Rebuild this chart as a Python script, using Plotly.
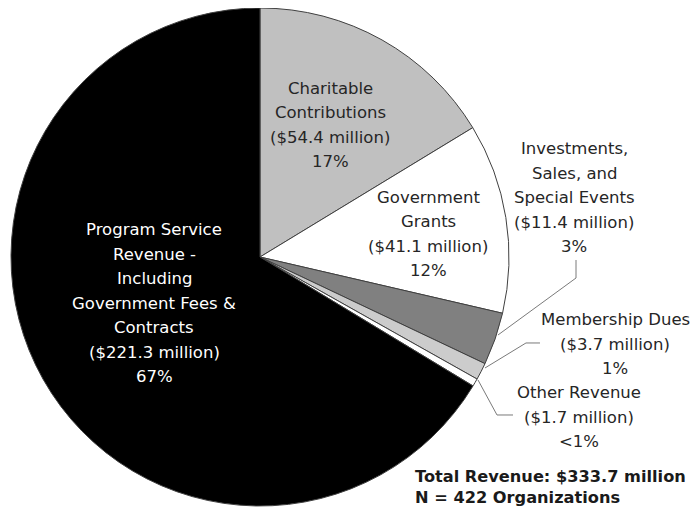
import plotly.graph_objects as go

# revenue sources, clockwise from 12 o'clock
sources = ["Charitable Contributions", "Government Grants",
           "Investments, Sales, and Special Events", "Membership Dues",
           "Other Revenue", "Program Service Revenue"]
revenue = [54.4, 41.1, 11.4, 3.7, 1.7, 221.3]   # $ million
shares = ["17%", "12%", "3%", "1%", "<1%", "67%"]
label_lines = [
    ["Charitable", "Contributions"],
    ["Government", "Grants"],
    ["Investments,", "Sales, and", "Special Events"],
    ["Membership Dues"],
    ["Other Revenue"],
    ["Program Service", "Revenue -", "Including", "Government Fees &", "Contracts"],
]
total_text = "Total Revenue: $333.7 million"
n_text = "N = 422 Organizations"

OFF = 8  # page body margin, the figure sits 8px in from the window corner
W, H = 698 - OFF, 507 - OFF


def px(x):
    return (x - OFF) / W


def py(y):
    return 1 - (y - OFF) / H


colors = ["#c0c0c0", "#ffffff", "#808080", "#cccccc", "#ffffff", "#000000"]
# label block centres (window px) and text colours
label_pos = [(330, 125), (428, 234), (574, 198), (615, 344), (579, 417), (154, 303)]
label_col = ["#262626"] * 5 + ["#ffffff"]
# leader lines for the small slices (window px)
leaders = [
    [(576, 260), (576, 278), (498, 335)],
    [(540, 343), (526, 343), (485, 368)],
    [(513, 415), (497, 415), (478, 380)],
]
LS = 24.5
FONT = "DejaVu Sans, Verdana, sans-serif"

fig = go.Figure()
fig.add_trace(go.Pie(
    labels=sources, values=revenue, sort=False, direction="clockwise",
    rotation=0, textinfo="none", hoverinfo="label+value",
    marker=dict(colors=colors, line=dict(color="#404040", width=1)),
    domain=dict(x=[3 / W, 501 / W], y=[1 / H, 1]),
    showlegend=False,
))

annotations = []
for i in range(len(sources)):
    lines = label_lines[i] + ["($%s million)" % revenue[i], shares[i]]
    cx, cy = label_pos[i]
    top = cy - LS * (len(lines) - 1) / 2
    for k, txt in enumerate(lines):
        annotations.append(dict(
            x=px(cx), y=py(top + k * LS), xref="paper", yref="paper",
            text=txt, showarrow=False, xanchor="center", yanchor="middle",
            font=dict(family=FONT, size=16.5, color=label_col[i]),
        ))

annotations.append(dict(
    x=px(413), y=py(487), xref="paper", yref="paper",
    text="<b>%s</b><br><b>%s</b>" % (total_text, n_text), showarrow=False,
    xanchor="left", yanchor="middle", align="left",
    font=dict(family=FONT, size=16.2, color="#1a1a1a"),
))

shapes = []
for pts in leaders:
    path = "M " + " L ".join("%.4f,%.4f" % (px(x), py(y)) for x, y in pts)
    shapes.append(dict(type="path", path=path, xref="paper", yref="paper",
                       line=dict(color="#7a7a7a", width=1)))

fig.update_layout(
    width=W, height=H,
    margin=dict(l=0, r=0, t=0, b=0),
    paper_bgcolor="white", plot_bgcolor="white",
    annotations=annotations, shapes=shapes,
)
fig.write_html("out.html")
